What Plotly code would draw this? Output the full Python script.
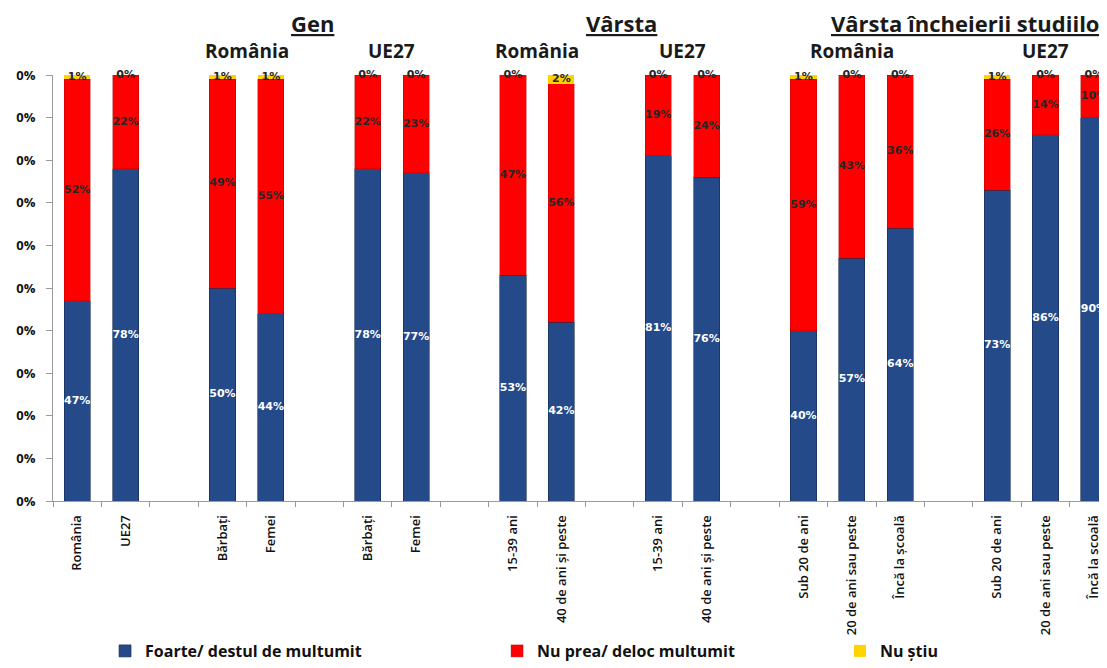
import plotly.graph_objects as go

# ------------------------ DATA ------------------------
categories = ["România", "UE27",
              "Bărbați", "Femei", "Bărbați", "Femei",
              "15-39 ani", "40 de ani și peste", "15-39 ani", "40 de ani și peste",
              "Sub 20 de ani", "20 de ani sau peste", "Încă la școală",
              "Sub 20 de ani", "20 de ani sau peste", "Încă la școală"]
group_sizes = [2, 2, 2, 2, 2, 3, 3]
sub_titles = ["", "România", "UE27", "România", "UE27", "România", "UE27"]
top_titles = ["Gen", "Vârsta", "Vârsta încheierii studiilor"]

multumit = [47, 78, 50, 44, 78, 77, 53, 42, 81, 76, 40, 57, 64, 73, 86, 90]
nemultumit = [52, 22, 49, 55, 22, 23, 47, 56, 19, 24, 59, 43, 36, 26, 14, 10]
nu_stiu = [1, 0, 1, 1, 0, 0, 0, 2, 0, 0, 1, 0, 0, 1, 0, 0]

y_ticks = [0, 10, 20, 30, 40, 50, 60, 70, 80, 90, 100]
y_ticktext = ["0%"] * 11

# ------------------------ positions (one empty slot between groups) ------------------------
xs, group_centers = [], []
pos = 0
for n in group_sizes:
    group_centers.append(pos + (n - 1) / 2)
    for i in range(n):
        xs.append(pos)
        pos += 1
    pos += 1

# where the big headers sit (x in slot units)
top_title_x = [4.87, 11.25, 18.45]

BLUE = '#244a8a'
RED = '#ff0000'
YELLOW = '#ffd200'
FONT = 'Open Sans'

fig = go.Figure()
fig.add_bar(x=xs, y=multumit, name='Foarte/ destul de multumit', marker_color=BLUE,
            marker_line=dict(color='#13294f', width=0.6), width=0.54, legend='legend')
fig.add_bar(x=xs, y=nemultumit, name='Nu prea/ deloc multumit', marker_color=RED,
            marker_line=dict(color='#b00000', width=0.4), width=0.54, legend='legend2')
fig.add_bar(x=xs, y=nu_stiu, name='Nu știu', marker_color=YELLOW,
            marker_line=dict(width=0), width=0.54, legend='legend3')

# labels at the middle of each segment
mid_blue = [a / 2 for a in multumit]
mid_red = [a + b / 2 for a, b in zip(multumit, nemultumit)]
mid_yel = [a + b + c / 2 for a, b, c in zip(multumit, nemultumit, nu_stiu)]
for mids, vals, col in [(mid_blue, multumit, 'white'),
                        (mid_red, nemultumit, '#262626'),
                        (mid_yel, nu_stiu, '#262626')]:
    fig.add_scatter(x=xs, y=mids, mode='text', text=[f"{v}%" for v in vals],
                    textfont=dict(family='DejaVu Sans', size=11, color=col, weight='bold'),
                    showlegend=False, cliponaxis=False, hoverinfo='skip')

# headers
annotations = []
for t, c in zip(sub_titles, group_centers):
    if t:
        annotations.append(dict(x=c, y=1.057, xref='x', yref='paper', text=f"<b>{t}</b>",
                                showarrow=False, font=dict(family=FONT, size=19, color='#1a1a1a'),
                                yanchor='middle'))
for t, c in zip(top_titles, top_title_x):
    annotations.append(dict(x=c, y=1.122, xref='x', yref='paper', text=f"<b><u>{t}</u></b>",
                            showarrow=False, font=dict(family=FONT, size=22, color='#1a1a1a'),
                            yanchor='middle'))

legend_style = dict(orientation='h', yref='container', xref='container',
                    yanchor='bottom', y=0.0, xanchor='left',
                    font=dict(family=FONT, size=16, color='#111111', weight='bold'),
                    bgcolor='rgba(0,0,0,0)', itemwidth=30)

# page body keeps an 8px margin, so the figure is 8px smaller than the window
fig.update_layout(
    barmode='stack',
    width=1099, height=660,
    paper_bgcolor='white', plot_bgcolor='white',
    margin=dict(l=45, r=0, t=67, b=167, autoexpand=False),
    font=dict(family=FONT, color='#111111'),
    annotations=annotations,
    legend=dict(legend_style, x=0.0883),
    legend2=dict(legend_style, x=0.445),
    legend3=dict(legend_style, x=0.757),
    xaxis=dict(
        range=[-0.5, 21.27],
        tickmode='array', tickvals=xs, ticktext=categories,
        tickangle=-90, ticks='', showgrid=False, zeroline=False, ticklabelstandoff=8,
        showline=True, linecolor='#9a9a9a', linewidth=1,
        tickfont=dict(family=FONT, size=13, color='#111111', weight=600),
        minor=dict(tickmode='linear', tick0=0.5, dtick=1, ticks='outside', ticklen=5,
                   tickcolor='#9a9a9a', showgrid=False),
    ),
    yaxis=dict(
        range=[0, 100],
        tickmode='array', tickvals=y_ticks, ticktext=y_ticktext,
        ticks='outside', ticklen=6, tickcolor='#9a9a9a', ticklabelstandoff=8,
        showgrid=False, zeroline=False,
        showline=True, linecolor='#9a9a9a', linewidth=1,
        tickfont=dict(family=FONT, size=13, color='#111111', weight='bold'),
    ),
)

fig.write_html("out.html")
